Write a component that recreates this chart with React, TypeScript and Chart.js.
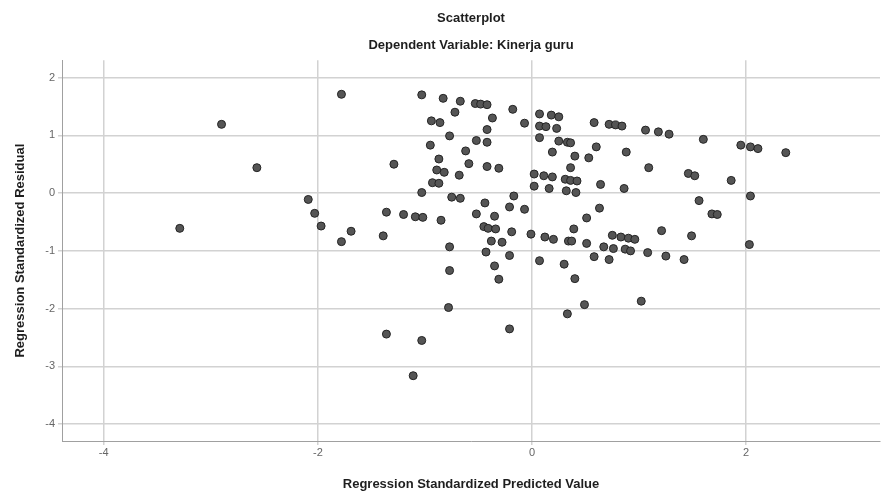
import React, { useEffect, useRef } from "react";
import { Chart, registerables } from "chart.js";

Chart.register(...registerables);

// Regression Standardized Predicted Value (x)
const predictedValue = [
  -3.29, -2.9, -2.57, -2.09, -2.03, -1.97, -1.78, -1.78, -1.69, -1.39,
  -1.36, -1.29, -1.36, -1.2, -1.09, -1.02, -1.03, -1.03, -1.11, -1.03,
  -0.83, -0.67, -0.53, -0.48, -0.42, -0.18, -0.72, -0.94, -0.86, -0.37,
  -0.07, 0.07, 0.18, 0.25, 0.07, 0.13, 0.23, -0.42, -0.77, -0.95,
  -0.52, -0.42, -0.62, 0.07, 0.25, 0.33, 0.36, 0.19, 0.4, -0.87,
  -0.59, -0.89, -0.82, -0.42, -0.31, -0.68, 0.02, 0.11, 0.19, 0.31,
  0.36, 0.42, 0.36, -0.93, -0.87, 0.02, 0.16, 0.32, 0.41, -0.17,
  -0.75, -0.67, -0.44, -0.21, -0.07, -0.85, -0.52, -0.35, -0.77, -0.45,
  -0.41, -0.34, -0.19, -0.38, -0.28, -0.01, 0.12, 0.2, 0.34, 0.37,
  0.39, -0.43, -0.21, 0.07, 0.3, -0.35, -0.77, 0.4, -0.31, -0.78,
  0.33, -0.21, 0.49, 1.02, 0.58, 0.72, 0.78, 0.84, 1.06, 1.18,
  1.28, 1.6, 1.95, 2.04, 2.11, 2.37, 0.6, 0.88, 0.53, 1.09,
  0.64, 1.46, 1.52, 1.86, 0.86, 2.04, 1.56, 0.63, 0.51, 1.68,
  1.73, 2.03, 0.51, 0.75, 0.83, 0.9, 0.96, 0.67, 0.76, 0.87,
  0.92, 1.21, 1.49, 1.08, 1.25, 1.42, 0.58, 0.72,
];

// Regression Standardized Residual (y)
const residualValue = [
  -0.61, 1.19, 0.44, -0.11, -0.35, -0.57, 1.71, -0.84, -0.66, -0.74,
  -0.33, 0.5, -2.44, -0.37, -0.41, -0.42, 0.01, -2.55, -3.16, 1.7,
  1.64, 1.59, 1.55, 1.54, 1.53, 1.45, 1.4, 1.25, 1.22, 1.3,
  1.21, 1.37, 1.35, 1.32, 1.16, 1.15, 1.12, 1.1, 0.99, 0.83,
  0.91, 0.88, 0.73, 0.96, 0.9, 0.88, 0.87, 0.71, 0.64, 0.59,
  0.51, 0.4, 0.36, 0.46, 0.43, 0.31, 0.33, 0.3, 0.28, 0.24,
  0.22, 0.21, 0.44, 0.18, 0.17, 0.12, 0.08, 0.04, 0.01, -0.05,
  -0.07, -0.09, -0.17, -0.24, -0.28, -0.47, -0.36, -0.4, -0.93, -0.58,
  -0.61, -0.62, -0.67, -0.83, -0.85, -0.71, -0.76, -0.8, -0.83, -0.83,
  -0.62, -1.02, -1.08, -1.17, -1.23, -1.26, -1.34, -1.48, -1.49, -1.98,
  -2.09, -2.35, -1.93, -1.87, 1.22, 1.19, 1.18, 1.16, 1.09, 1.06,
  1.02, 0.93, 0.83, 0.8, 0.77, 0.7, 0.8, 0.71, 0.61, 0.44,
  0.15, 0.34, 0.3, 0.22, 0.08, -0.05, -0.13, -0.26, -0.43, -0.36,
  -0.37, -0.89, -0.87, -0.73, -0.76, -0.78, -0.8, -0.93, -0.96, -0.97,
  -1.0, -0.65, -0.74, -1.03, -1.09, -1.15, -1.1, -1.15,
];

const xTickValues = [-4, -2, 0, 2];
const yTickValues = [-4, -3, -2, -1, 0, 1, 2];
const xRange = [-4.39, 3.25];
const yRange = [-4.29, 2.3];

const chartTitle = "Scatterplot";
const chartSubtitle = "Dependent Variable: Kinerja guru";
const xTitle = "Regression Standardized Predicted Value";
const yTitle = "Regression Standardized Residual";

const FONT = "'Liberation Sans', Arial, sans-serif";

export default function App() {
  const canvasRef = useRef<HTMLCanvasElement | null>(null);

  useEffect(() => {
    const canvas = canvasRef.current;
    if (!canvas) return;
    const points = predictedValue.map((x, i) => ({ x, y: residualValue[i] }));
    const chart = new Chart(canvas, {
      type: "scatter",
      data: {
        datasets: [
          {
            data: points,
            pointRadius: 4,
            pointBackgroundColor: "#555555",
            pointBorderColor: "#242424",
            pointBorderWidth: 1,
          },
        ],
      },
      options: {
        responsive: false,
        animation: false,
        devicePixelRatio: 1,
        layout: { padding: 0 },
        plugins: {
          legend: { display: false },
          tooltip: { enabled: false },
          title: {
            display: true,
            text: chartTitle,
            fullSize: false,
            color: "#1e1e1e",
            font: { family: FONT, size: 13, weight: "bold", lineHeight: 1.2 },
            padding: { top: 11, bottom: 11 },
          },
          subtitle: {
            display: true,
            text: chartSubtitle,
            fullSize: false,
            color: "#1e1e1e",
            font: { family: FONT, size: 13, weight: "bold", lineHeight: 1.2 },
            padding: { top: 0, bottom: 7 },
          },
        },
        scales: {
          x: {
            type: "linear",
            min: xRange[0],
            max: xRange[1],
            afterBuildTicks: (s: any) => {
              s.ticks = xTickValues.map((v) => ({ value: v }));
            },
            afterFit: (s: any) => {
              s.height = 54;
            },
            ticks: {
              color: "#666",
              font: { family: FONT, size: 11 },
              padding: 1,
              callback: (v: any) => String(v),
            },
            grid: {
              color: "#d2d2d2",
              lineWidth: 1.5,
              tickLength: 4,
              drawTicks: true,
            },
            border: { display: true, color: "#a0a0a0", width: 1 },
            title: {
              display: true,
              text: xTitle,
              color: "#1e1e1e",
              font: { family: FONT, size: 13, weight: "bold", lineHeight: 1.2 },
              padding: { top: 4, bottom: 3 },
            },
          },
          y: {
            type: "linear",
            min: yRange[0],
            max: yRange[1],
            afterBuildTicks: (s: any) => {
              s.ticks = yTickValues.map((v) => ({ value: v }));
            },
            afterFit: (s: any) => {
              s.width = 62;
            },
            ticks: {
              color: "#666",
              font: { family: FONT, size: 11 },
              padding: 3,
              callback: (v: any) => String(v),
            },
            grid: {
              color: "#d2d2d2",
              lineWidth: 1.5,
              tickLength: 4,
              drawTicks: true,
            },
            border: { display: true, color: "#a0a0a0", width: 1 },
            title: {
              display: true,
              text: yTitle,
              color: "#1e1e1e",
              font: { family: FONT, size: 13, weight: "bold", lineHeight: 1.2 },
              padding: { top: 13, bottom: 4 },
            },
          },
        },
      },
    });
    return () => chart.destroy();
  }, []);

  return (
    <div
      style={{
        position: "fixed",
        left: 0,
        top: 0,
        width: 885,
        height: 495,
        background: "#fff",
      }}
    >
      <canvas ref={canvasRef} width={885} height={495} />
    </div>
  );
}
